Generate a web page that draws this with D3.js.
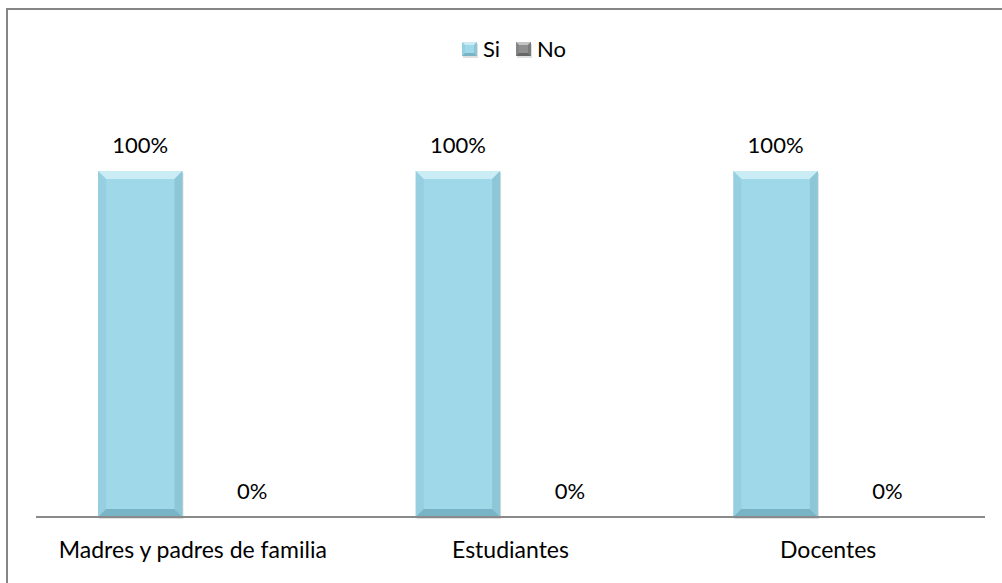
<!DOCTYPE html>
<html>
<head>
<meta charset="utf-8">
<script src="https://cdn.jsdelivr.net/npm/d3@7"></script>
<style>
  html, body { margin: 0; padding: 0; background: #fff; }
  svg { display: block; }
  text { font-family: Lato, "Open Sans", sans-serif; fill: #000; }
</style>
</head>
<body>
<svg id="chart" width="1002" height="583"></svg>
<script>
const categories = ["Madres y padres de familia", "Estudiantes", "Docentes"];
const seriesNames = ["Si", "No"];
const siValues = [1, 1, 1];
const noValues = [0, 0, 0];

const seriesColors = {
  Si: { base: "#9fd8e8", light: "#c9ecf5", dark: "#8cc6d7", darker: "#78b4c6" },
  No: { base: "#8f8f8f", light: "#c4c4c4", dark: "#7a7a7a", darker: "#666666" }
};

const data = categories.map((c, i) => ({ cat: c, values: { Si: siValues[i], No: noValues[i] } }));

const svg = d3.select("#chart");

// outer frame (extends beyond the picture on right/bottom)
svg.append("rect").attr("x", 7).attr("y", 9).attr("width", 1100).attr("height", 700)
  .attr("fill", "none").attr("stroke", "#868686").attr("stroke-width", 2);

const x0 = d3.scaleBand().domain(categories).range([37, 990]).padding(0);
const x1 = d3.scaleBand().domain(seriesNames).range([61, 61 + 196.5]).paddingInner(0.2455).paddingOuter(0);
const y = d3.scaleLinear().domain([0, 1]).range([517, 171]);

const fmt = d3.format(".0%");

// bevelled bar drawing
function bevelBar(g, bx, by, bw, bh, col, bev) {
  if (bh <= 0) return;
  const b = Math.min(bev || 8, bw / 4, bh / 2);
  g.append("rect").attr("x", bx + 1).attr("y", by + 2).attr("width", bw).attr("height", bh)
    .attr("fill", "#000").attr("opacity", 0.12);
  g.append("rect").attr("x", bx).attr("y", by).attr("width", bw).attr("height", bh).attr("fill", col.base);
  const poly = pts => g.append("polygon").attr("points", pts.map(p => p.join(",")).join(" "));
  poly([[bx, by], [bx + bw, by], [bx + bw - b, by + b], [bx + b, by + b]]).attr("fill", col.light);
  poly([[bx, by], [bx + b, by + b], [bx + b, by + bh - b], [bx, by + bh]]).attr("fill", col.dark).attr("opacity", 0.5);
  poly([[bx + bw, by], [bx + bw, by + bh], [bx + bw - b, by + bh - b], [bx + bw - b, by + b]]).attr("fill", col.dark);
  poly([[bx, by + bh], [bx + b, by + bh - b], [bx + bw - b, by + bh - b], [bx + bw, by + bh]]).attr("fill", col.darker);
}

const groups = svg.selectAll("g.cat").data(data).enter().append("g")
  .attr("class", "cat").attr("transform", d => `translate(${x0(d.cat)},0)`);

groups.each(function (d) {
  const g = d3.select(this);
  seriesNames.forEach(s => {
    const v = d.values[s];
    const bx = x1(s), bw = x1.bandwidth();
    bevelBar(g, bx, y(v), bw, y(0) - y(v), seriesColors[s]);
    g.append("text").attr("x", bx + bw / 2).attr("y", y(v) - 18)
      .attr("text-anchor", "middle").attr("font-size", 22).text(fmt(v));
  });
});

// category axis line
svg.append("line").attr("x1", 36).attr("x2", 985).attr("y1", 517).attr("y2", 517)
  .attr("stroke", "#8a8a8a").attr("stroke-width", 2);

// category labels
svg.selectAll("text.cl").data(categories).enter().append("text").attr("class", "cl")
  .attr("x", d => x0(d) + x0.bandwidth() / 2 - 3).attr("y", 558)
  .attr("text-anchor", "middle").attr("font-size", 23).text(d => d);

// legend
const legend = svg.append("g");
const legendItems = [{ name: "Si", x: 462 }, { name: "No", x: 516 }];
legendItems.forEach(it => {
  bevelBar(legend, it.x, 42, 15, 14, seriesColors[it.name], 3);
  legend.append("text").attr("x", it.x + 21).attr("y", 57).attr("font-size", 22).text(it.name);
});
</script>
</body>
</html>
